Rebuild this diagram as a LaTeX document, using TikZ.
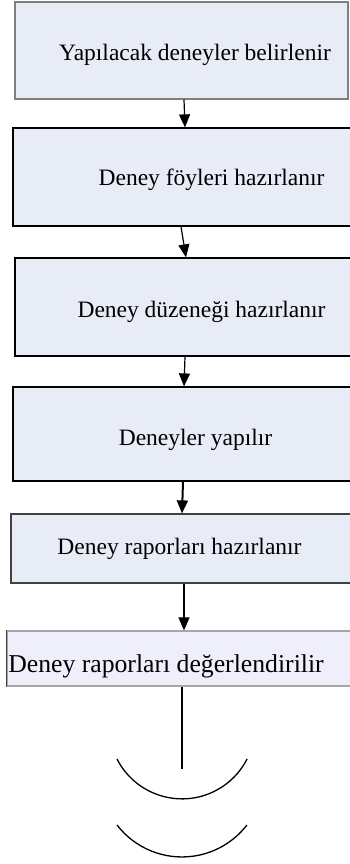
\documentclass[tikz,border=0pt]{standalone}
\usepackage{fontspec}
\setmainfont{Liberation Serif}
\usetikzlibrary{arrows.meta}
\definecolor{boxfill}{RGB}{232, 236, 247}
\definecolor{lastfill}{RGB}{239, 239, 251}

\begin{document}
\begin{tikzpicture}[
    x=1pt, y=1pt,
    font=\fontsize{23.5}{28}\selectfont,
    stepbox/.style={draw=#1, fill=boxfill, line width=1.2pt, inner sep=0pt},
    stepbox/.default=black,
    flow/.style={line width=1.2pt, -{Triangle[width=11pt, length=13pt]}}
]
    \useasboundingbox (0,0) rectangle (349,864);

    % ==========================================
    % BOXES (Steps, top to bottom)
    % ==========================================
    \node[stepbox=gray, minimum width=333, minimum height=97,
          label={[xshift=13.5pt, yshift=-4pt]center:Yapılacak deneyler belirlenir}]
          (b1) at (181.5, 813.5) {};
    \node[stepbox, minimum width=339, minimum height=98,
          label={[xshift=29pt, yshift=-3pt]center:Deney föyleri hazırlanır}]
          (b2) at (182.5, 687) {};
    \node[stepbox, minimum width=337, minimum height=98,
          label={[xshift=18pt, yshift=-5pt]center:Deney düzeneği hazırlanır}]
          (b3) at (183.5, 557) {};
    \node[stepbox, minimum width=339, minimum height=94,
          label={[xshift=13pt, yshift=-6pt]center:Deneyler yapılır}]
          (b4) at (182.5, 430) {};
    \node[stepbox=darkgray, minimum width=341, minimum height=69,
          label={[xshift=-2pt]center:Deney raporları hazırlanır}]
          (b5) at (181.5, 315.5) {};
    \node[stepbox=gray!70, fill=lastfill, minimum width=349, minimum height=55,
          label={[xshift=-15.5pt, yshift=-8pt, font=\fontsize{25.7}{30}\selectfont]center:Deney raporları değerlendirilir}]
          (b6) at (181.5, 205.5) {};
    \draw[darkgray, line width=1.2pt] (b6.north west) -- (b6.south west);

    % ==========================================
    % ARROWS (box to box)
    % ==========================================
    \draw[flow] ([xshift=2.5pt]b1.south) -- ([xshift=2.5pt]b2.north);
    \draw[flow] ([xshift=-1.5pt]b2.south) -- ([xshift=2.5pt]b3.north);
    \draw[flow] ([xshift=1.5pt]b3.south) -- ([xshift=1.5pt]b4.north);
    \draw[flow, line width=2pt] ([xshift=0.5pt]b4.south) -- ([xshift=0.5pt]b5.north);
    \draw[flow] ([xshift=2.5pt]b5.south) -- ([xshift=2.5pt]b6.north);

    % Tail line and the two arcs below
    \coordinate (tail) at (182, 95);
    \draw[line width=1.3pt] ([xshift=0.5pt]b6.south) -- (tail);
    \draw[line width=1.3pt] (117, 105) arc[start angle=207, end angle=333, radius=73];
    \draw[line width=1.3pt] (117, 39) arc[start angle=217.6, end angle=322.4, radius=82];

\end{tikzpicture}
\end{document}
